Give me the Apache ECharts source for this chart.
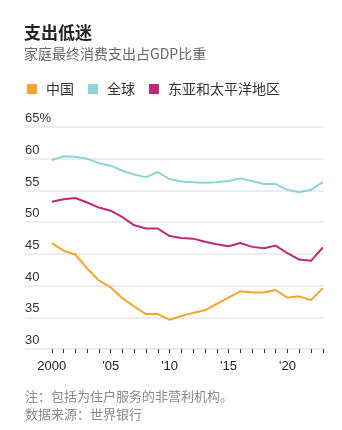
<!DOCTYPE html>
<html>
<head>
<meta charset="utf-8">
<script src="https://cdn.jsdelivr.net/npm/echarts@6/dist/echarts.min.js"></script>
<style>
  html, body { margin: 0; padding: 0; background: #fff; }
  #main { width: 342px; height: 430px; }
</style>
</head>
<body>
<div id="main"></div>
<script>
// 年份与数据（家庭最终消费支出占GDP比重，%）
let years = [2000, 2001, 2002, 2003, 2004, 2005, 2006, 2007, 2008, 2009, 2010, 2011,
  2012, 2013, 2014, 2015, 2016, 2017, 2018, 2019, 2020, 2021, 2022, 2023]
let chinaData = [46.7, 45.5, 44.9, 42.7, 40.8, 39.7, 38.0, 36.7, 35.5, 35.5, 34.6, 35.2,
  35.7, 36.1, 37.1, 38.1, 39.1, 38.9, 38.9, 39.3, 38.1, 38.3, 37.7, 39.6]
let worldData = [59.8, 60.4, 60.3, 60.0, 59.3, 58.9, 58.1, 57.5, 57.1, 57.9, 56.8, 56.4,
  56.3, 56.2, 56.3, 56.5, 56.9, 56.5, 56.0, 56.0, 55.1, 54.7, 55.1, 56.3]
let eapData = [53.2, 53.6, 53.8, 53.1, 52.3, 51.8, 50.8, 49.5, 49.0, 49.0, 47.8, 47.5,
  47.4, 46.9, 46.5, 46.2, 46.7, 46.1, 45.9, 46.3, 45.1, 44.1, 43.9, 46.0]
let xLabelYears = [2000, 2005, 2010, 2015, 2020]
let seriesNames = ['中国', '全球', '东亚和太平洋地区']
let seriesColors = ['#f8a42c', '#8fd3d7', '#bc2a78']

function pairs (values) {
  return years.map(function (y, i) { return [y, values[i]] })
}

let cjk = '"Noto Sans CJK SC", "Noto Sans", sans-serif'
let num = '"Liberation Sans", Arial, "Noto Sans CJK SC", sans-serif'

let chart = echarts.init(document.getElementById('main'))
let option = {
  animation: false,
  backgroundColor: '#fff',
  title: {
    text: '支出低迷',
    subtext: '家庭最终消费支出占GDP比重',
    left: 19,
    top: 19,
    itemGap: 6,
    textStyle: { fontFamily: cjk, fontSize: 17, fontWeight: 'bold', color: '#222' },
    subtextStyle: { fontFamily: cjk, fontSize: 14, color: '#666' }
  },
  legend: {
    data: seriesNames,
    left: 22,
    top: 77,
    icon: 'rect',
    itemWidth: 10,
    itemHeight: 10,
    itemGap: 14,
    textStyle: { fontFamily: cjk, fontSize: 14, color: '#333', padding: [0, 0, 0, 4] }
  },
  graphic: [
    {
      type: 'text',
      left: 25,
      top: 387,
      style: {
        text: '注：包括为住户服务的非营利机构。\n数据来源：世界银行',
        font: '13px ' + cjk,
        fill: '#8a8a8a',
        lineHeight: 18
      }
    }
  ],
  grid: { left: 25, right: 18, top: 127, bottom: 81 },
  xAxis: {
    type: 'value',
    min: 1997.73,
    max: 2023.1,
    splitLine: { show: false },
    axisLine: { show: false },
    axisTick: {
      show: true,
      length: 4,
      lineStyle: { color: '#333', width: 1 },
      customValues: years
    },
    axisLabel: {
      customValues: xLabelYears,
      margin: 11,
      fontFamily: num,
      fontSize: 13,
      color: '#222',
      formatter: function (v) {
        return v === 2000 ? '2000' : "'" + String(v).slice(2)
      }
    }
  },
  yAxis: {
    type: 'value',
    min: 30,
    max: 65,
    interval: 5,
    axisLine: { show: false },
    axisTick: { show: false },
    splitLine: { lineStyle: { color: '#ececec', width: 2 } },
    axisLabel: {
      inside: true,
      margin: 0,
      align: 'left',
      verticalAlign: 'bottom',
      padding: [0, 0, 2, 0],
      fontFamily: num,
      fontSize: 13,
      color: '#333',
      formatter: function (v) {
        return v === 65 ? v + '%' : String(v)
      }
    }
  },
  series: [
    { name: seriesNames[0], type: 'line', data: pairs(chinaData) },
    { name: seriesNames[1], type: 'line', data: pairs(worldData) },
    { name: seriesNames[2], type: 'line', data: pairs(eapData) }
  ].map(function (s, i) {
    s.symbol = 'none'
    s.color = seriesColors[i]
    s.lineStyle = { width: 2, color: seriesColors[i] }
    s.z = 3
    return s
  })
}
chart.setOption(option)
</script>
</body>
</html>
